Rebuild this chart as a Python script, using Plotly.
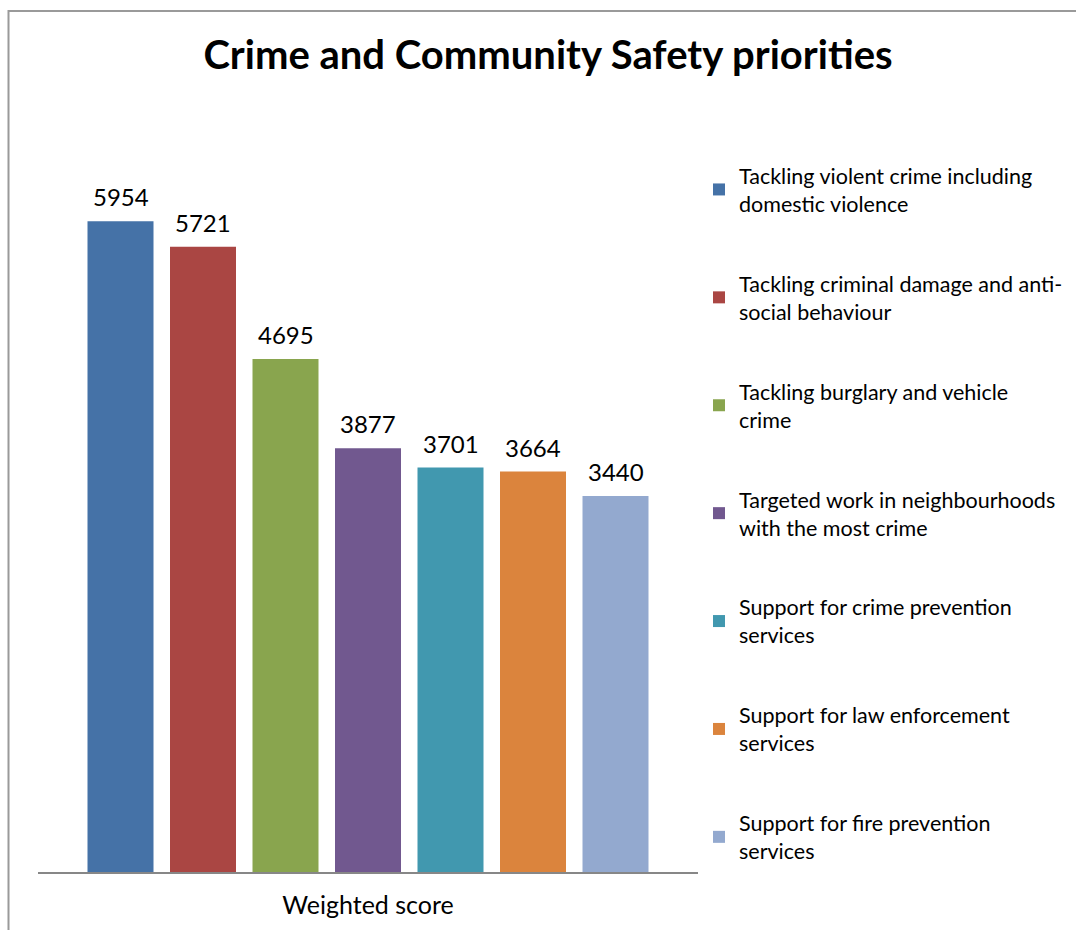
import plotly.graph_objects as go

# Survey results: weighted score for each priority
priorities = [
    "Tackling violent crime including<br>domestic violence",
    "Tackling criminal damage and anti-<br>social behaviour",
    "Tackling burglary and vehicle<br>crime",
    "Targeted work in neighbourhoods<br>with the most crime",
    "Support for crime prevention<br>services",
    "Support for law enforcement<br>services",
    "Support for fire prevention<br>services",
]
scores = [5954, 5721, 4695, 3877, 3701, 3664, 3440]
bar_colors = ["#4572A7", "#AA4643", "#89A54E", "#71588F", "#4198AF", "#DB843D", "#93A9CF"]
category_label = "Weighted score"

FONT = "Lato, 'Open Sans', sans-serif"

fig = go.Figure()
for i, (name, val, col) in enumerate(zip(priorities, scores, bar_colors)):
    fig.add_trace(go.Bar(
        x=[i], y=[val], name=name, width=0.8,
        marker=dict(color=col, line=dict(width=0)),
        legendgroup=f"g{i}", hoverinfo="y+name",
    ))
    fig.add_annotation(
        x=i, y=val, xref="x", yref="y", text=str(val), showarrow=False,
        yanchor="bottom", yshift=8, font=dict(family=FONT, size=24, color="#000000"),
    )

# outer chart border
fig.add_shape(type="rect", xref="paper", yref="paper",
              x0=(8.5 - 38) / 660, x1=2.0, y0=-0.5, y1=(872 - 11) / 765,
              line=dict(color="#9a9a9a", width=2), fillcolor="rgba(0,0,0,0)", layer="below")

fig.update_layout(
    width=1076, height=930,
    margin=dict(l=38, r=378, t=107, b=58, autoexpand=False),
    paper_bgcolor="white", plot_bgcolor="white",
    title=dict(text="<b>Crime and Community Safety priorities</b>", x=548 / 1076, xanchor="center",
               y=1 - 55 / 930, yanchor="middle",
               font=dict(family=FONT, size=40, color="#000000")),
    font=dict(family=FONT, color="#000000"),
    barmode="overlay",
    showlegend=True,
    legend=dict(x=(699 - 38) / 660, xanchor="left", y=(872 - 155) / 765, yanchor="top",
                traceorder="grouped", tracegroupgap=49, itemwidth=30,
                font=dict(family=FONT, size=21.5, color="#000000"),
                bgcolor="rgba(0,0,0,0)"),
    xaxis=dict(range=[-1, 7], tickmode="array", tickvals=[3], ticktext=[category_label],
               showgrid=False, zeroline=False, showline=True, linecolor="#878787", linewidth=2,
               ticks="", ticklabelstandoff=10,
               tickfont=dict(family=FONT, size=25, color="#000000"), fixedrange=True),
    yaxis=dict(range=[0, 7000], visible=False, showgrid=False, zeroline=False, fixedrange=True),
)

fig.write_html("out.html")
